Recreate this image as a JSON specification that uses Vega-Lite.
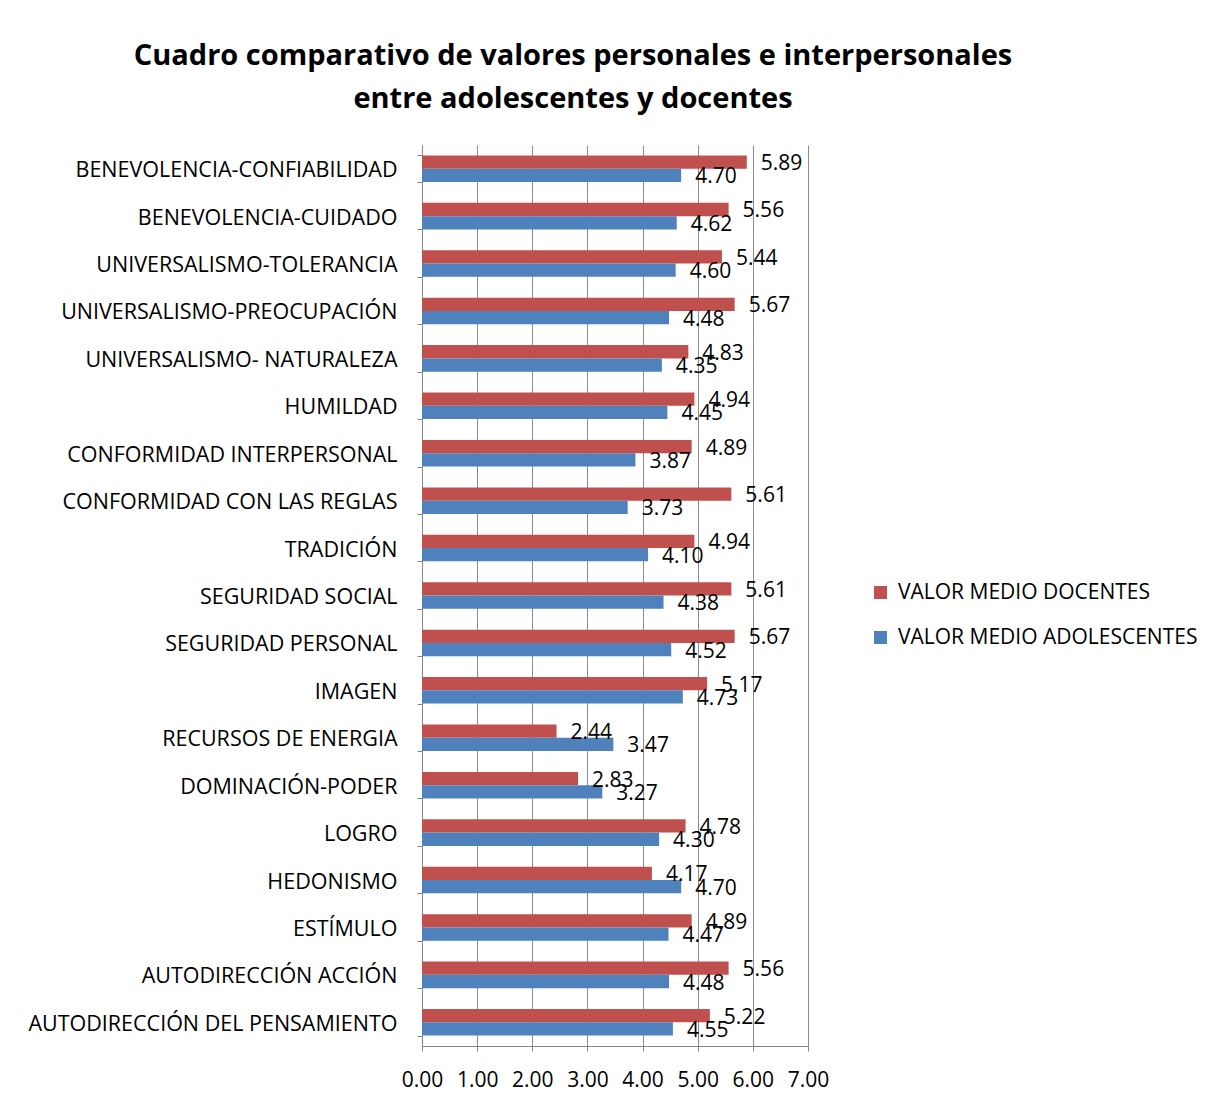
{
  "$schema": "https://vega.github.io/schema/vega-lite/v6.json",
  "autosize": {"type": "none"},
  "padding": {"left": 422, "top": 145, "right": 407, "bottom": 57},
  "width": 386,
  "height": 901,
  "background": "white",
  "title": {
    "text": ["Cuadro comparativo de valores personales e interpersonales", "entre adolescentes y docentes"],
    "anchor": "middle",
    "frame": "group",
    "dx": -42,
    "offset": 20,
    "font": "Open Sans",
    "fontSize": 29,
    "fontWeight": "bold",
    "color": "black",
    "lineHeight": 43
  },
  "data": {
    "values": [
      {"cat": "BENEVOLENCIA-CONFIABILIDAD", "serie": "VALOR MEDIO DOCENTES", "v": 5.89},
      {"cat": "BENEVOLENCIA-CONFIABILIDAD", "serie": "VALOR MEDIO ADOLESCENTES", "v": 4.70},
      {"cat": "BENEVOLENCIA-CUIDADO", "serie": "VALOR MEDIO DOCENTES", "v": 5.56},
      {"cat": "BENEVOLENCIA-CUIDADO", "serie": "VALOR MEDIO ADOLESCENTES", "v": 4.62},
      {"cat": "UNIVERSALISMO-TOLERANCIA", "serie": "VALOR MEDIO DOCENTES", "v": 5.44},
      {"cat": "UNIVERSALISMO-TOLERANCIA", "serie": "VALOR MEDIO ADOLESCENTES", "v": 4.60},
      {"cat": "UNIVERSALISMO-PREOCUPACIÓN", "serie": "VALOR MEDIO DOCENTES", "v": 5.67},
      {"cat": "UNIVERSALISMO-PREOCUPACIÓN", "serie": "VALOR MEDIO ADOLESCENTES", "v": 4.48},
      {"cat": "UNIVERSALISMO- NATURALEZA ", "serie": "VALOR MEDIO DOCENTES", "v": 4.83},
      {"cat": "UNIVERSALISMO- NATURALEZA ", "serie": "VALOR MEDIO ADOLESCENTES", "v": 4.35},
      {"cat": "HUMILDAD", "serie": "VALOR MEDIO DOCENTES", "v": 4.94},
      {"cat": "HUMILDAD", "serie": "VALOR MEDIO ADOLESCENTES", "v": 4.45},
      {"cat": "CONFORMIDAD INTERPERSONAL", "serie": "VALOR MEDIO DOCENTES", "v": 4.89},
      {"cat": "CONFORMIDAD INTERPERSONAL", "serie": "VALOR MEDIO ADOLESCENTES", "v": 3.87},
      {"cat": "CONFORMIDAD CON LAS REGLAS", "serie": "VALOR MEDIO DOCENTES", "v": 5.61},
      {"cat": "CONFORMIDAD CON LAS REGLAS", "serie": "VALOR MEDIO ADOLESCENTES", "v": 3.73},
      {"cat": "TRADICIÓN", "serie": "VALOR MEDIO DOCENTES", "v": 4.94},
      {"cat": "TRADICIÓN", "serie": "VALOR MEDIO ADOLESCENTES", "v": 4.10},
      {"cat": "SEGURIDAD SOCIAL", "serie": "VALOR MEDIO DOCENTES", "v": 5.61},
      {"cat": "SEGURIDAD SOCIAL", "serie": "VALOR MEDIO ADOLESCENTES", "v": 4.38},
      {"cat": "SEGURIDAD PERSONAL", "serie": "VALOR MEDIO DOCENTES", "v": 5.67},
      {"cat": "SEGURIDAD PERSONAL", "serie": "VALOR MEDIO ADOLESCENTES", "v": 4.52},
      {"cat": "IMAGEN", "serie": "VALOR MEDIO DOCENTES", "v": 5.17},
      {"cat": "IMAGEN", "serie": "VALOR MEDIO ADOLESCENTES", "v": 4.73},
      {"cat": "RECURSOS DE ENERGIA", "serie": "VALOR MEDIO DOCENTES", "v": 2.44},
      {"cat": "RECURSOS DE ENERGIA", "serie": "VALOR MEDIO ADOLESCENTES", "v": 3.47},
      {"cat": "DOMINACIÓN-PODER", "serie": "VALOR MEDIO DOCENTES", "v": 2.83},
      {"cat": "DOMINACIÓN-PODER", "serie": "VALOR MEDIO ADOLESCENTES", "v": 3.27},
      {"cat": "LOGRO", "serie": "VALOR MEDIO DOCENTES", "v": 4.78},
      {"cat": "LOGRO", "serie": "VALOR MEDIO ADOLESCENTES", "v": 4.30},
      {"cat": "HEDONISMO", "serie": "VALOR MEDIO DOCENTES", "v": 4.17},
      {"cat": "HEDONISMO", "serie": "VALOR MEDIO ADOLESCENTES", "v": 4.70},
      {"cat": "ESTÍMULO", "serie": "VALOR MEDIO DOCENTES", "v": 4.89},
      {"cat": "ESTÍMULO", "serie": "VALOR MEDIO ADOLESCENTES", "v": 4.47},
      {"cat": "AUTODIRECCIÓN ACCIÓN", "serie": "VALOR MEDIO DOCENTES", "v": 5.56},
      {"cat": "AUTODIRECCIÓN ACCIÓN", "serie": "VALOR MEDIO ADOLESCENTES", "v": 4.48},
      {"cat": "AUTODIRECCIÓN DEL PENSAMIENTO", "serie": "VALOR MEDIO DOCENTES", "v": 5.22},
      {"cat": "AUTODIRECCIÓN DEL PENSAMIENTO", "serie": "VALOR MEDIO ADOLESCENTES", "v": 4.55}
    ]
  },
  "encoding": {
    "y": {
      "field": "cat",
      "type": "nominal",
      "sort": null,
      "title": null,
      "scale": {"paddingInner": 0.44, "paddingOuter": 0.22},
      "axis": {
        "tickBand": "extent",
        "tickSize": 5,
        "tickColor": "#868686",
        "domainColor": "#868686",
        "labelFont": "Open Sans",
        "labelFontSize": 21.5,
        "labelColor": "black",
        "labelPadding": 20,
        "labelOffset": 2,
        "labelLimit": 420
      }
    },
    "yOffset": {
      "field": "serie",
      "type": "nominal",
      "sort": ["VALOR MEDIO DOCENTES", "VALOR MEDIO ADOLESCENTES"],
      "scale": {"paddingInner": 0, "paddingOuter": 0}
    },
    "x": {
      "field": "v",
      "type": "quantitative",
      "title": null,
      "scale": {"domain": [0, 7], "nice": false},
      "axis": {
        "values": [0, 1, 2, 3, 4, 5, 6, 7],
        "format": ".2f",
        "grid": true,
        "gridColor": "#8c8c8c",
        "tickSize": 5,
        "tickColor": "#868686",
        "domainColor": "#868686",
        "labelFont": "Open Sans",
        "labelFontSize": 21,
        "labelColor": "black",
        "labelPadding": 18,
        "labelOverlap": false,
        "labelFlush": false
      }
    }
  },
  "layer": [
    {
      "mark": {"type": "bar"},
      "encoding": {
        "color": {
          "field": "serie",
          "type": "nominal",
          "scale": {"domain": ["VALOR MEDIO DOCENTES", "VALOR MEDIO ADOLESCENTES"], "range": ["#C0504D", "#4F81BD"]},
          "legend": {
            "title": null,
            "orient": "none",
            "legendX": 448,
            "legendY": 437,
            "symbolType": "square",
            "symbolSize": 170,
            "symbolStrokeWidth": 0,
            "labelFont": "Open Sans",
            "labelFontSize": 21,
            "labelColor": "black",
            "labelLimit": 400,
            "rowPadding": 23,
            "labelOffset": 7
          }
        }
      }
    },
    {
      "mark": {"type": "text", "align": "left", "baseline": "middle", "dx": 14, "dy": 2, "font": "Open Sans", "fontSize": 21, "color": "black"},
      "encoding": {
        "text": {"field": "v", "type": "quantitative", "format": ".2f"}
      }
    }
  ],
  "config": {
    "view": {"stroke": null}
  }
}
